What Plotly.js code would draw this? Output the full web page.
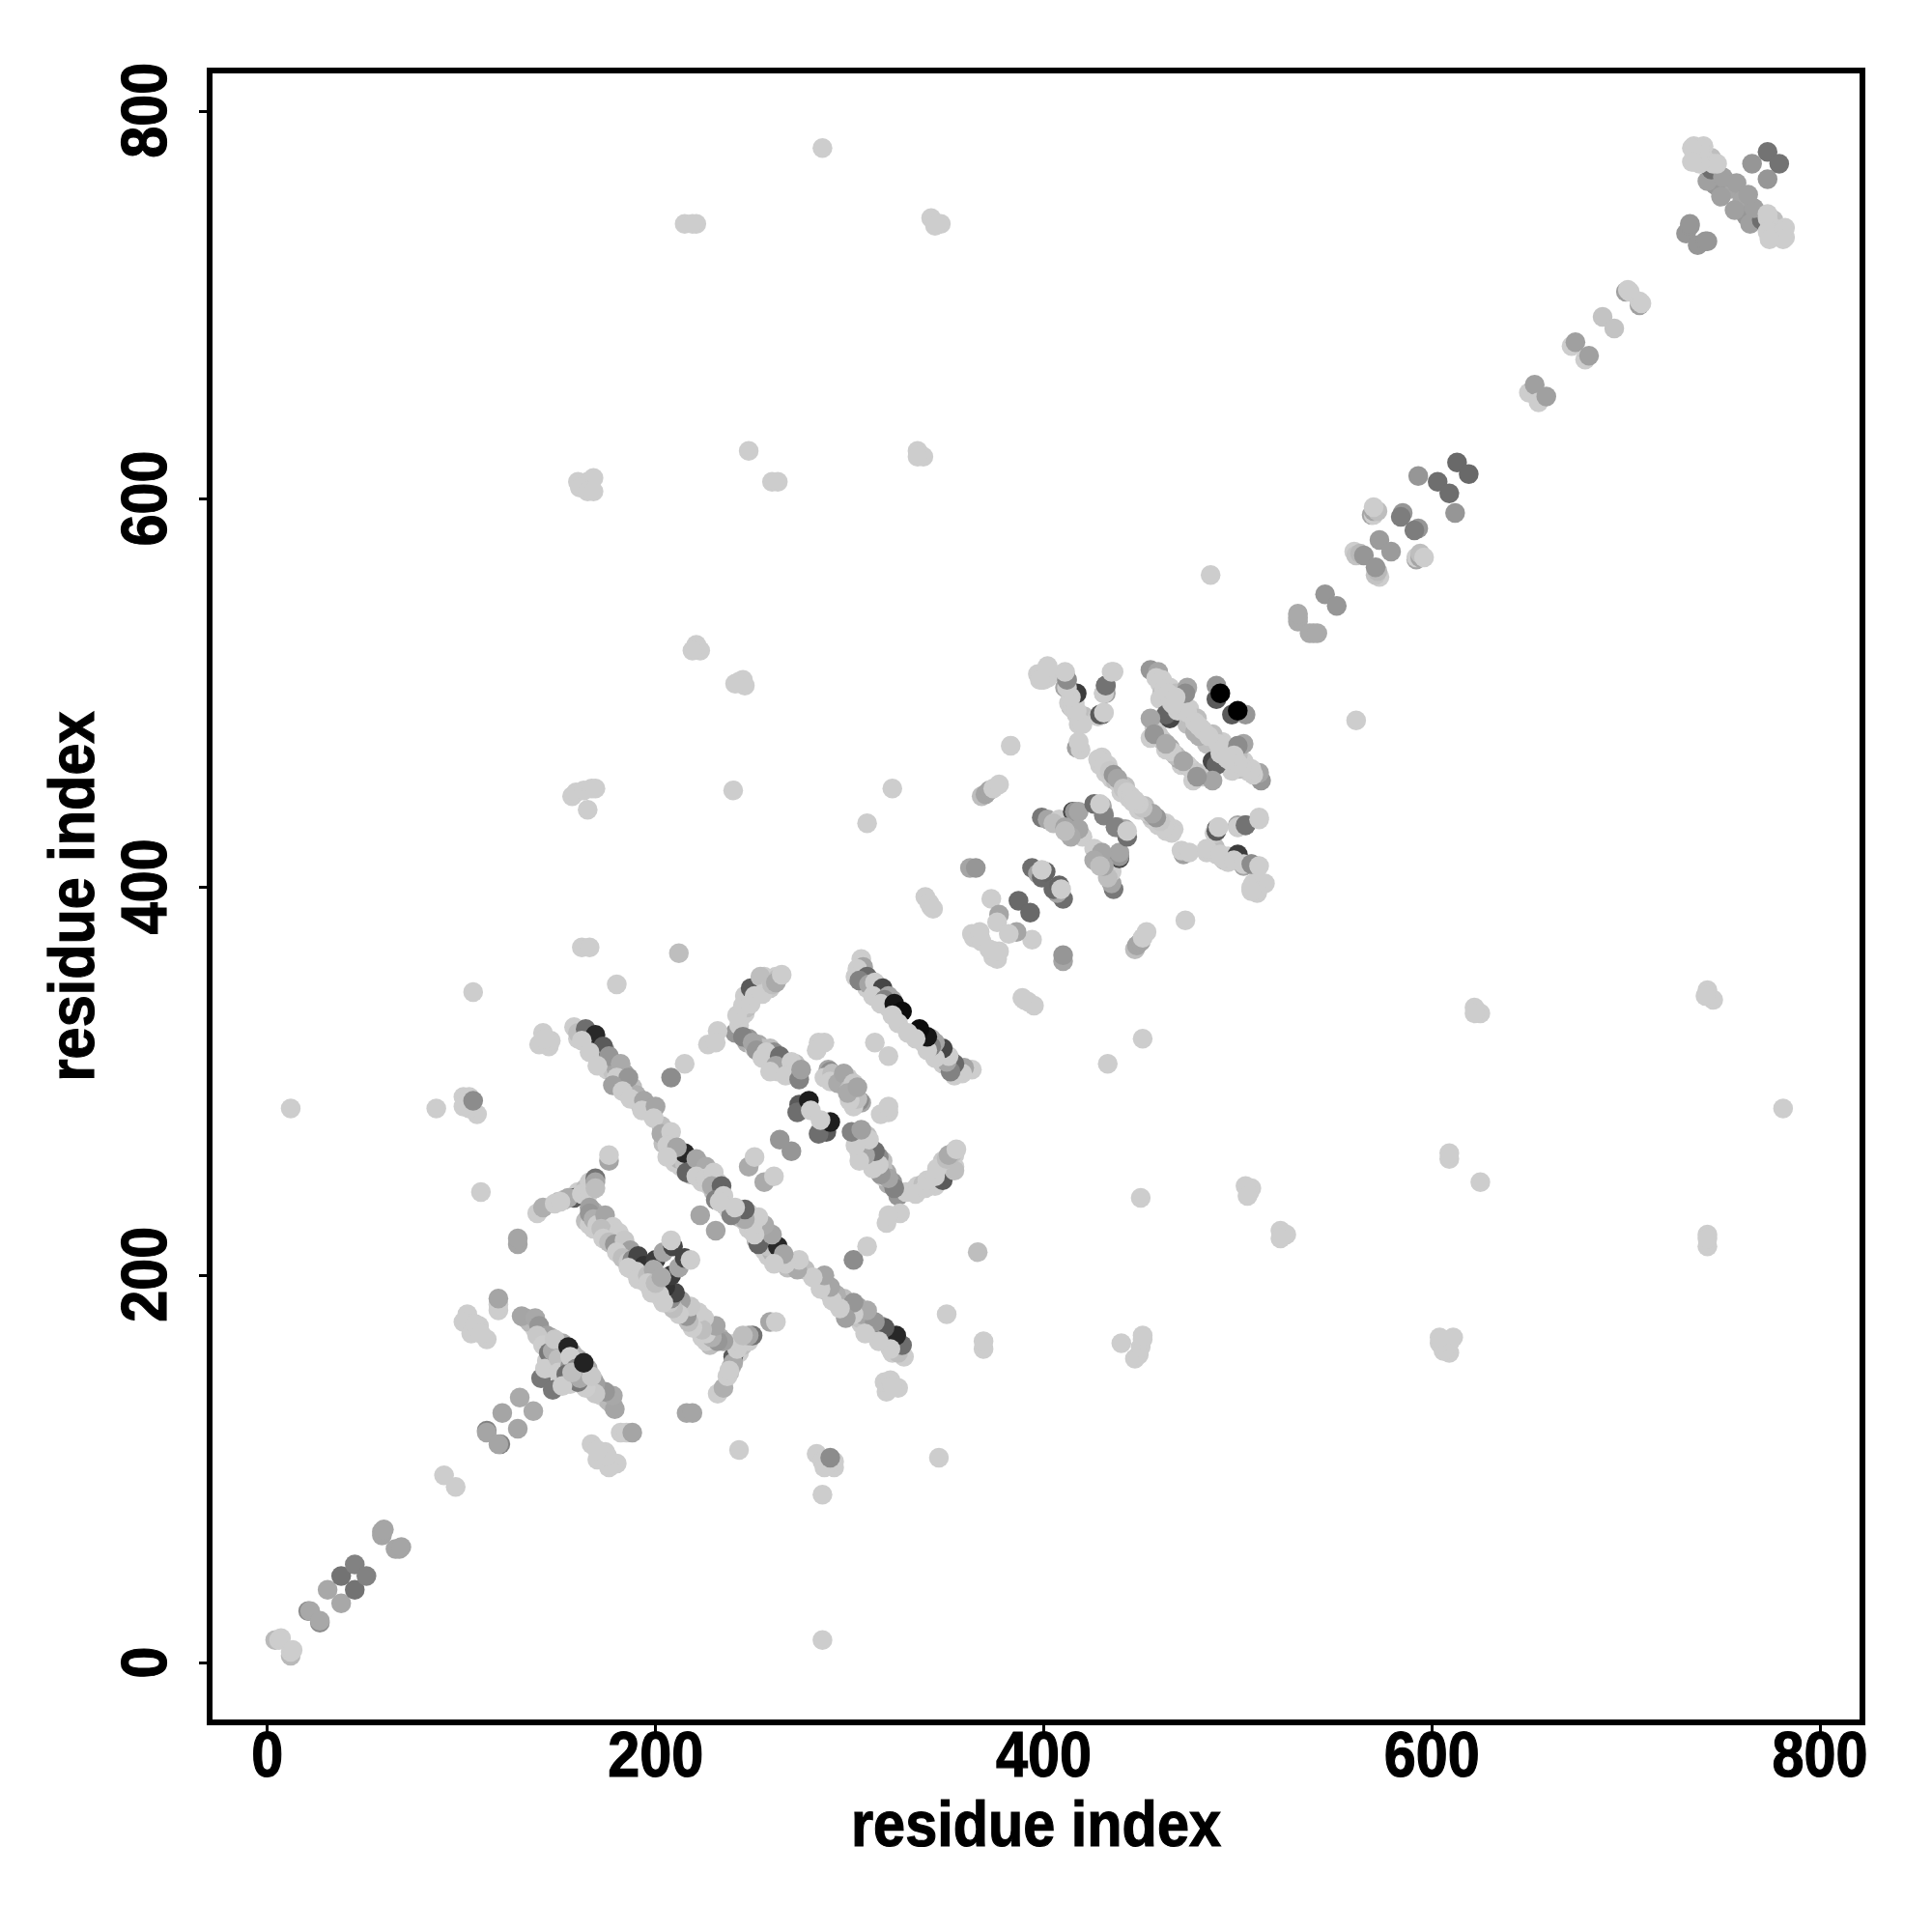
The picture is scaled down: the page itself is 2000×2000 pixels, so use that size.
<!DOCTYPE html>
<html><head><meta charset="utf-8">
<script src="https://cdn.plot.ly/plotly-3.0.1.min.js"></script>
<style>html,body{margin:0;padding:0;background:#fff}</style></head>
<body><div id="chart" style="width:2000px;height:2000px"></div>
<script>
// each contact: [residue i, residue j, grey level]; the map is symmetric, so (j,i) is drawn too
const bandFill=[[160,322,205],[163,324,190],[165,320,180],[168,319,205],[167,322,140],[171,318,170],[172,314,205],[174,316,185],[173,310,205],[175,306,205],[178,310,190],[178,305,195],[180,306,165],[184,304,165],[182,298,205],[185,299,185],[188,297,190],[186,293,205],[190,293,175],[192,288,195],[196,287,205],[197,284,205],[203,277,190],[205,270,205],[204,268,190],[208,268,200],[209,262,205],[212,262,205],[210,258,205],[213,256,205],[212,260,180],[218,256,205],[218,252,170],[215,258,195],[223,257,170],[224,253,205],[220,255,190],[228,252,190],[224,248,205],[228,246,205],[232,248,205],[232,243,205],[236,236,205],[230,243,190],
[168,233,175],[164,228,190],[166,226,205],[168,224,205],[171,228,195],[173,226,180],[175,222,205],[177,220,205],[178,222,185],[180,218,200],[182,213,205],[184,212,205],[183,216,180],[186,211,190],[188,205,205],[188,203,205],[190,206,195],[192,204,180],[193,200,205],[194,197,205],[196,196,205],[197,204,150],
[133,178,175],[136,175,190],[138,172,205],[141,171,185],[143,167,205],[145,165,195],[146,168,180],[150,163,205],[152,165,170],[149,160,195],[147,157,130],[144,156,205],[150,150,205],[153,156,150],[157,160,180],[158,156,205],[155,159,205],[144,162,175],
[244,333,205],[243,326,190],[246,335,205],[247,338,190],[248,342,205],[250,346,190],[252,349,190],[253,347,205],[255,352,190],[257,350,205],[256,354,205],[258,352,190],[260,353,205],[262,354,205],[263,353,190],[246,344,205],[249,345,205],[247,320,175],[248,322,150],[251,317,205],[253,319,170],[255,317,190],[259,317,190],[258,312,205],[261,310,205],[261,315,140],[263,309,190],[265,311,180],[266,307,205],[268,309,205],[269,306,205],[272,304,205],[272,309,190],[263,305,205],
[305,358,190],[306,355,190],[308,351,205],[309,348,205],[311,352,185],[312,348,180],[314,346,205],[315,349,165],[318,345,190],[319,340,205],[320,338,205],[322,342,170],[324,337,190],[325,335,205],[321,342,205],
[429,463,205],[433,463,205],[435,456,205],[437,455,190],[439,453,205],[440,449,205],[442,452,190],[444,446,205],[430,467,205],[432,459,205],[416,495,205],[414,493,190],[417,489,205],[416,492,205],
[460,505,205],[463,504,205],[461,500,190],[463,497,175],[465,495,205],[467,492,175],[474,484,190],[478,480,175],[457,482,205],[460,477,205],[461,476,195],[463,474,205],[466,470,170],[468,468,190],[470,466,205],[471,463,205],[474,463,170],[465,503,205],[468,500,190],[470,497,205],[472,495,190],[475,492,205],[477,488,205],[479,487,190],[481,482,205],[483,480,205],
[744,776,190],[747,768,170],[754,760,165],[746,762,150],
[289,306,165],[293,302,190],[296,300,190],[299,302,200],[275,285,205],[276,288,190],[150,238,190],[153,239,190],[160,243,205],[164,245,190],[166,248,205]];
const sparse=[[12,286,205],[286,781,205],[215,742,205],[221,742,205],[219,742,205],[342,745,205],[347,742,205],[344,741,205],[248,625,205],[260,609,205],[263,609,205],[335,625,205],[338,622,205],[335,622,205],[160,609,205],[165,609,205],[168,611,205],[161,606,205],[165,604,205],[168,604,205],[486,561,205],[221,525,205],[223,522,205],[219,522,205],[245,507,205],[243,506,205],[246,504,205],[241,505,205],[157,447,205],[159,449,205],[163,450,205],[167,451,205],[169,451,205],[165,440,205],[240,450,205],[322,451,205],[309,433,205],[162,369,205],[166,369,205],[212,366,190],[180,350,205],[106,346,205],[87,286,205],[101,292,205],[104,292,205],[108,283,205],[104,286,205],[101,287,205],[106,290,140],[110,243,205],[91,97,205],[176,259,165],[176,262,205],[208,302,140],[215,309,205],[342,390,205],[339,395,205],[341,392,205],[343,389,205],[383,473,205]];
const lowDiagonal=[[4,12,185],[6,12,205],[7,13,205],[21,27,140],[22,27,168],[31,38,168],[38,45,115],[45,51,130],[59,68,165],[59,66,165],[60,69,165]];
const tChain=[[113,120,130],[113,119,165],[121,129,165],[130,137,170],[141,147,120],[119,182,205],[119,185,205],[119,188,165],[103,180,205],[101,176,205],[109,174,205],[113,167,205],[105,170,205],[107,175,205],[110,170,205],[135,176,185],[131,179,165],[138,178,168],[140,174,150],[144,169,160],[139,169,200],[142,164,205],[145,160,120],[149,154,110],[143,152,205],[147,161,170],[152,159,140],[150,157,190],[148,167,200],[155,163,35]];
const armChain=[[129,216,165],[129,219,165],[139,232,205],[142,235,175],[148,237,205],[158,240,90],[155,240,170],[151,238,205],[162,242,205],[166,243,205],[169,250,115],[169,248,165],[169,245,190]];
const chain2=[[166,235,160],[166,232,150],[168,229,175],[170,226,205],[174,231,165],[176,223,30],[178,225,205],[172,224,190],[182,216,30],[181,222,205],[173,219,205],[176,217,190],[179,216,150],[184,218,200],[187,213,160],[180,212,205],[183,209,190],[186,207,200],[188,208,140],[191,210,70],[194,205,50],[190,202,205],[186,204,205],[191,198,205],[196,200,190],[200,208,60],[199,203,170],[204,212,165],[209,215,70],[208,218,205]];
const chain3=[[158,328,205],[160,325,190],[164,327,110],[169,324,40],[162,321,205],[173,318,90],[166,315,205],[176,313,150],[170,308,205],[182,309,170],[180,302,205],[186,302,150],[178,298,160],[183,295,205],[187,291,205],[194,290,165],[193,285,205],[200,287,165],[199,281,205],[142,325,205],[140,319,205],[145,318,205],[146,321,205],[143,322,205],[203,273,170],[208,274,205],[206,267,205],[215,263,40],[211,266,165],[206,261,205],[216,253,100],[221,260,165],[226,256,170],[221,251,205],[226,250,205],[230,253,205],[229,246,170],[234,246,100],[231,239,130],[235,241,205],[238,233,205]];
const vChain=[[241,325,150],[243,329,205],[242,334,205],[245,323,130],[245,339,205],[249,348,90],[249,340,205],[251,344,205],[254,354,190],[259,348,200],[255,345,205],[260,350,190],[262,351,170],[265,355,205],[232,326,205],[227,319,205],[231,320,205],[250,320,165],[252,316,150],[257,315,205],[255,312,205],[264,313,110],[262,308,165],[270,310,205],[259,305,205],[267,303,205],[274,301,130],[275,306,160]];
const middleGroup=[[223,231,165],[248,256,170],[251,261,205],[264,270,150],[274,288,90],[273,284,110],[279,290,30],[280,285,205],[284,320,205],[283,316,205],[287,320,205],[290,305,140],[287,302,205],[291,304,190],[290,300,205],[294,299,170],[297,304,165],[313,320,205]];
const chain5=[[306,363,205],[307,359,165],[304,358,205],[303,354,205],[309,354,105],[305,352,130],[310,350,165],[313,351,205],[317,348,70],[312,344,205],[320,344,165],[318,342,130],[316,340,205],[323,340,22],[327,336,12],[322,334,205],[325,330,205]];
const chain365=[[362,410,165],[365,410,150],[373,394,205],[377,386,165],[376,382,205],[387,393,105],[367,375,175],[363,376,205],[364,374,205],[367,377,205],[368,372,205],[394,410,110],[397,407,165],[399,405,105],[401,408,100],[399,409,205],[368,447,190],[370,448,165],[372,450,165],[374,451,205],[377,453,205]];
const block400=[[397,510,205],[402,513,205],[400,507,205],[399,507,205],[402,508,205],[412,507,165],[411,503,165],[411,510,205],[416,500,70],[413,495,205],[415,492,205],[419,489,205],[420,486,205],[418,484,205],[421,488,190],[432,504,120],[436,511,205],[432,500,165],[431,500,190],[430,489,70],[431,490,205],[428,488,205],[417,472,160],[419,471,205],[418,475,205],[399,436,120],[402,435,165],[408,435,205],[405,433,190],[415,439,70],[416,439,150],[418,439,165],[411,431,165],[416,429,165],[420,426,205],[413,428,190],[426,443,110],[430,442,170],[431,438,160],[431,437,130],[429,443,205],[418,430,165],[414,426,170],[411,429,190],[428,466,205],[431,462,205],[434,460,200],[436,458,150],[438,456,165],[441,451,195],[443,449,205],[445,447,205]];
const rightWing=[[420,484,205],[417,491,205],[417,500,60],[414,498,205],[412,503,205],[412,507,140],[411,511,205],[429,489,90],[431,490,205],[431,500,205],[432,504,115],[435,511,205],[401,508,205],[402,514,205],[398,510,205],[398,507,205]];
const block460=[[455,512,150],[459,511,165],[458,508,205],[461,507,205],[462,502,205],[460,497,205],[464,500,205],[474,503,165],[473,500,140],[465,487,70],[463,489,100],[455,487,165],[469,491,205],[474,490,205],[478,485,205],[455,477,205],[459,479,200],[465,472,165],[457,479,150],[466,495,205],[468,498,205],[467,494,205],[489,497,90],[489,504,150],[491,500,0]];
const chain530=[[531,539,170],[531,537,170],[531,541,170],[545,551,150],[560,573,205],[561,571,195],[563,572,185],[565,571,150],[573,579,155],[569,592,165],[570,592,205],[570,594,165],[572,594,190],[570,596,205],[585,593,150],[584,591,125],[593,612,150],[603,609,110],[613,619,105]];
const chain650=[[650,655,205],[653,659,160],[672,679,205],[674,681,160],[688,694,195],[700,707,160],[702,707,205],[701,708,205],[731,737,150],[733,741,150],[733,742,150]];
const endCross=[[742,764,160],[744,770,110],[750,766,160],[757,763,160],[749,756,160],[765,773,150],[773,779,115],[735,782,205],[740,782,205],[735,774,205],[740,776,205],[738,778,205],[745,773,205],[747,773,205],[738,773,205],[738,781,205],[734,781,205],[734,774,205]];

const allContacts=[...bandFill,...sparse,...lowDiagonal,...tChain,...armChain,...chain2,...chain3,...vChain,...middleGroup,...chain5,...chain365,...block400,...rightWing,...block460,...chain530,...chain650,...endCross];
const tickValues=[0,200,400,600,800];
const axisName="residue index";

const residueX=allContacts.map(c=>c[0]).concat(allContacts.map(c=>c[1]));
const residueY=allContacts.map(c=>c[1]).concat(allContacts.map(c=>c[0]));
const grey=allContacts.concat(allContacts).map(c=>`rgb(${c[2]},${c[2]},${c[2]})`);

const font="'Liberation Sans', Arial, sans-serif";
const axisBase={showgrid:false,zeroline:false,showline:true,mirror:true,linecolor:'#000',linewidth:6,
  ticks:'outside',ticklen:8,tickwidth:3,tickcolor:'#000',tickmode:'array',tickvals:tickValues,ticktext:tickValues.map(String),
  tickfont:{family:font,size:66,color:'#000',weight:700},automargin:false};
const titleFont={family:font,size:66,color:'#000',weight:700};
Plotly.newPlot('chart',[{type:'scatter',mode:'markers',x:residueX,y:residueY,
  marker:{size:20.5,color:grey,line:{width:0}},hoverinfo:'x+y'}],
 {width:2000,height:2000,paper_bgcolor:'#fff',plot_bgcolor:'#fff',showlegend:false,
  margin:{l:220,r:75,t:76,b:220,pad:0},
  xaxis:Object.assign({},axisBase,{range:[-28.3,820.4],ticklabelstandoff:-30,
    title:{text:axisName,font:titleFont,standoff:0}}),
  yaxis:Object.assign({},axisBase,{range:[-28.9,819.5],tickangle:-90,ticklabelstandoff:8,
    title:{text:axisName,font:titleFont,standoff:0}})
 },{staticPlot:true,displayModeBar:false}).then(gd=>{
   // narrow and embolden the glyphs to the condensed heavy look of the reference lettering
   const restyle=(t,w)=>{t.setAttribute('textLength',w);t.setAttribute('lengthAdjust','spacingAndGlyphs');
     t.style.stroke='#000';t.style.strokeWidth='1.2px';};
   const shift=(t,dx,dy)=>t.setAttribute('transform','translate('+dx+','+dy+') '+(t.getAttribute('transform')||''));
   gd.querySelectorAll('.xtick text').forEach(t=>{restyle(t,33*t.textContent.length);shift(t,0,-4);});
   gd.querySelectorAll('.ytick text').forEach(t=>{restyle(t,33*t.textContent.length);shift(t,0,9);});
   const xt=gd.querySelector('.xtitle'), yt=gd.querySelector('.ytitle');
   restyle(xt,383); restyle(yt,383);
   shift(xt,0,-6); shift(yt,6,0);
 });
</script></body></html>
